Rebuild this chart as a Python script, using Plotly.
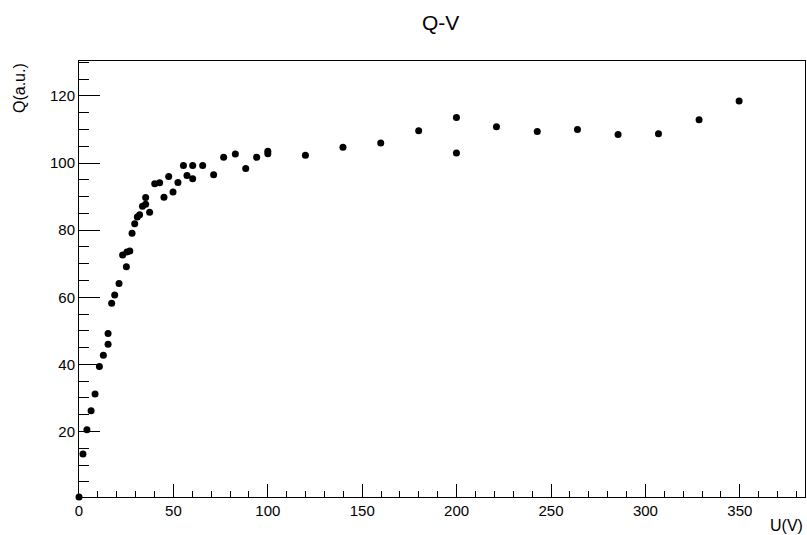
import plotly.graph_objects as go

voltage = [0, 2.1, 4.2, 6.4, 8.5, 10.8, 12.9, 15.4, 15.4, 17.3, 18.9, 21.2, 23.1, 25.1, 25.4,
           26.9, 28.1, 29.5, 30.9, 32.1, 33.6, 35.3, 35.3, 37.4, 40.1, 42.7, 45.0, 47.5, 49.8,
           52.4, 55.3, 57.2, 60.2, 60.2, 65.5, 71.3, 76.6, 82.8, 88.3, 94.1, 100, 100, 119.9,
           139.8, 159.8, 179.9, 199.9, 199.9, 221.1, 242.7, 264.0, 285.5, 306.9, 328.4, 349.6]
charge = [0.5, 13.3, 20.5, 26.2, 31.2, 39.4, 42.7, 46.0, 49.2, 58.2, 60.7, 64.1, 72.6, 69.1, 73.5,
          73.8, 79.1, 81.9, 83.9, 84.6, 87.1, 87.7, 89.7, 85.3, 93.8, 94.1, 89.8, 96.0, 91.4,
          94.2, 99.3, 96.3, 99.3, 95.3, 99.3, 96.5, 101.7, 102.7, 98.4, 101.7, 102.8, 103.5, 102.3,
          104.7, 106.0, 109.6, 113.6, 103.0, 110.8, 109.4, 110.0, 108.5, 108.7, 112.9, 118.5]

font = "Liberation Sans, Arial, sans-serif"

fig = go.Figure()
fig.add_trace(go.Scatter(x=voltage, y=charge, mode="markers",
                         marker=dict(color="black", size=7, symbol="circle"),
                         cliponaxis=False, showlegend=False))

W, H = 807, 535
L, R, T, B = 79, 2, 61, 38

fig.update_layout(
    width=W, height=H,
    margin=dict(l=L, r=R, t=T, b=B),
    paper_bgcolor="white", plot_bgcolor="white",
    font=dict(family=font, color="black", size=15),
    xaxis=dict(range=[0, 384.5], showgrid=False, zeroline=False,
               showline=True, linecolor="black", linewidth=1, mirror=True,
               ticks="inside", ticklen=13, tickwidth=1, tickcolor="black",
               tick0=0, dtick=50, tickfont=dict(size=15, family=font),
               minor=dict(ticks="inside", ticklen=6, dtick=10, tickcolor="black", tickwidth=1)),
    yaxis=dict(range=[0.5, 130.4], showgrid=False, zeroline=False,
               showline=True, linecolor="black", linewidth=1, mirror=True,
               ticks="inside", ticklen=21, tickwidth=1, tickcolor="black",
               tick0=0, dtick=20, tickfont=dict(size=15, family=font),
               minor=dict(ticks="inside", ticklen=10, dtick=5, tickcolor="black", tickwidth=1)),
    annotations=[
        dict(text="Q-V", xref="paper", yref="paper", x=(440 - L) / (W - L - R),
             y=(H - B - 23) / (H - T - B), xanchor="center", yanchor="middle",
             showarrow=False, font=dict(size=21, family=font)),
        dict(text="U(V)", xref="paper", yref="paper", x=1.0,
             y=-(525 - (H - B)) / (H - T - B), xanchor="right", yanchor="middle",
             showarrow=False, font=dict(size=16, family=font)),
        dict(text="Q(a.u.)", xref="paper", yref="paper", x=-(79 - 19) / (W - L - R),
             y=1.0, xanchor="center", yanchor="top", textangle=-90,
             showarrow=False, font=dict(size=16, family=font)),
    ],
)

fig.write_html("out.html")
